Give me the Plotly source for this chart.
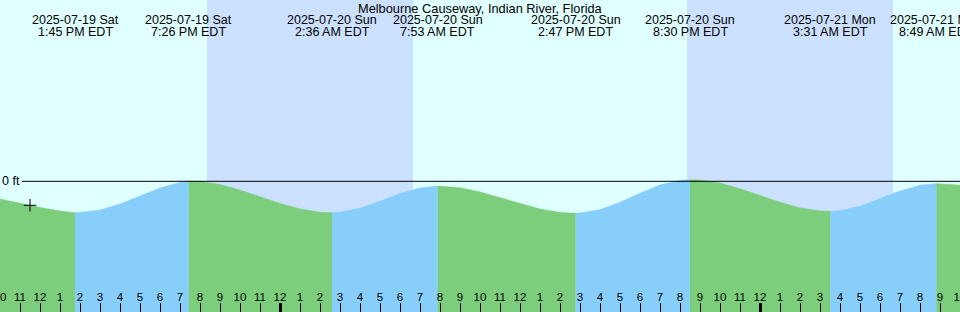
import pandas as pd
import plotly.graph_objects as go

station = "Melbourne Causeway, Indian River, Florida"
start_time = "2025-07-19 10:00"
end_time = "2025-07-21 10:00"

# hourly tide heights (ft), 2025-07-19 10:00 .. 2025-07-21 10:00
hour_times = pd.date_range(start_time, end_time, freq="h")
hourly_ft = [
    -0.089, -0.111, -0.131, -0.149, -0.156, -0.144, -0.114, -0.074, -0.034, -0.006,
    -0.001, -0.016, -0.044, -0.077,
    -0.111, -0.138, -0.155, -0.155, -0.135, -0.100, -0.061, -0.033, -0.025, -0.032,
    -0.053, -0.082, -0.112, -0.139, -0.156, -0.159, -0.142, -0.105, -0.060, -0.019,
    0.005, 0.006, -0.009, -0.037,
    -0.071, -0.105, -0.133, -0.148, -0.147, -0.125, -0.088, -0.048, -0.020, -0.013,
    -0.020,
]

# high / low tide events
event_times = pd.to_datetime([
    "2025-07-19 13:45", "2025-07-19 19:26", "2025-07-20 02:36", "2025-07-20 07:53",
    "2025-07-20 14:47", "2025-07-20 20:30", "2025-07-21 03:31", "2025-07-21 08:49",
])
event_ft = [-0.157, 0.002, -0.157, -0.024, -0.160, 0.008, -0.150, -0.012]

# night periods
sunsets = ["2025-07-19 20:21", "2025-07-20 20:21"]
sunrises = ["2025-07-20 06:39", "2025-07-21 06:39"]
midnights = ["2025-07-20 00:00", "2025-07-21 00:00"]

# "now" marker
now_time = ["2025-07-19 11:30"]
now_ft = [-0.120]

DAY = "#e0ffff"
NIGHT = "#cce0ff"
EBB = "#7ccd7c"
FLOOD = "#87cefa"
Y_MIN, Y_MAX = -0.6535, 0.9065
H = 312.0

fig = go.Figure()

pts = sorted(list(zip(hour_times, hourly_ft)) + list(zip(event_times, event_ft)))
bounds = [hour_times[0]] + list(event_times) + [hour_times[-1]]
for a, b in zip(bounds[:-1], bounds[1:]):
    seg = [(t, v) for t, v in pts if a <= t <= b]
    xs = [t for t, _ in seg]
    ys = [v for _, v in seg]
    color = EBB if ys[-1] < ys[0] else FLOOD
    fig.add_trace(go.Scatter(
        x=xs + [xs[-1], xs[0]], y=ys + [Y_MIN, Y_MIN],
        fill="toself", fillcolor=color, mode="lines",
        line=dict(width=0.6, color=color), hoverinfo="skip", showlegend=False,
    ))

fig.add_trace(go.Scatter(
    x=now_time, y=now_ft, mode="markers", xaxis="x2",
    marker=dict(symbol="cross-thin", size=9, line=dict(color="black", width=1)),
    hoverinfo="skip", showlegend=False,
))

for ss, sr in zip(sunsets, sunrises):
    fig.add_shape(type="rect", xref="x", yref="paper", x0=ss, x1=sr, y0=0, y1=1,
                  fillcolor=NIGHT, line_width=0, layer="below")

fig.add_shape(type="line", xref="paper", yref="y", x0=22 / 960, x1=1, y0=0, y1=0,
              line=dict(color="black", width=1), layer="above")

annotations = [
    dict(text="0 ft", xref="paper", yref="y", x=22 / 960, y=0, xanchor="right",
         yanchor="middle", showarrow=False, font=dict(size=12.5, color="black")),
    dict(text=station, xref="paper", yref="paper", x=0.5, y=1 - 8 / H,
         xanchor="center", yanchor="middle", showarrow=False,
         font=dict(size=12.8, color="black")),
]
for t in event_times:
    line1 = t.strftime("%Y-%m-%d %a")
    line2 = f"{t.hour % 12 or 12}:{t.minute:02d} {'AM' if t.hour < 12 else 'PM'} EDT"
    annotations.append(dict(text=line1, xref="x", yref="paper", x=t, y=1 - 20 / H,
                            xanchor="center", yanchor="middle", showarrow=False,
                            font=dict(size=12.5, color="black")))
    annotations.append(dict(text=line2, xref="x", yref="paper", x=t, y=1 - 32 / H,
                            xanchor="center", yanchor="middle", showarrow=False,
                            font=dict(size=12.5, color="black")))

hour_labels = [str(t.hour % 12 or 12) for t in hour_times]

fig.update_layout(
    width=960, height=312, autosize=False,
    margin=dict(l=0, r=0, t=0, b=0, pad=0),
    plot_bgcolor=DAY, paper_bgcolor=DAY,
    font=dict(family="Liberation Sans, Arial, sans-serif", color="black"),
    showlegend=False,
    annotations=annotations,
    xaxis=dict(
        type="date", range=[start_time, end_time], autorange=False,
        tickmode="array", tickvals=list(hour_times), ticktext=hour_labels,
        ticks="inside", ticklen=9, tickwidth=1, tickcolor="black",
        ticklabelposition="inside", ticklabeloverflow="allow",
        ticklabelstandoff=-1,
        tickfont=dict(size=11.5, color="black"), automargin=False,
        showgrid=False, zeroline=False, showline=False, fixedrange=True,
    ),
    xaxis2=dict(
        type="date", overlaying="x", anchor="y", side="bottom",
        range=[start_time, end_time], autorange=False,
        tickmode="array", tickvals=midnights,
        ticks="inside", ticklen=9, tickwidth=3, tickcolor="black",
        showticklabels=False, showgrid=False, zeroline=False, showline=False,
        fixedrange=True, automargin=False,
    ),
    yaxis=dict(range=[Y_MIN, Y_MAX], autorange=False, visible=False, fixedrange=True,
               showgrid=False, zeroline=False),
)

fig.write_html("out.html", config=dict(displayModeBar=False))
